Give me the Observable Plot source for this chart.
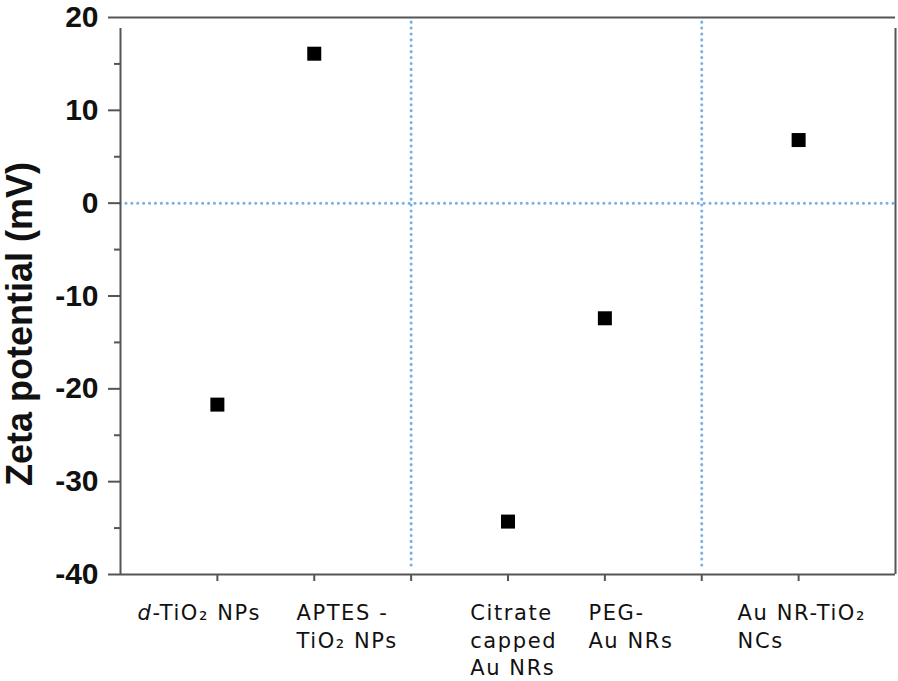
<!DOCTYPE html>
<html><head><meta charset="utf-8">
<script src="https://cdn.jsdelivr.net/npm/d3@7"></script>
<script src="https://cdn.jsdelivr.net/npm/@observablehq/plot@0.6"></script>
<style>body{margin:0;background:#fff} .xlab text{letter-spacing:1.6px}</style>
</head><body><div id="chart"></div>
<script>
const samples = ["d-TiO₂ NPs", "APTES -\nTiO₂ NPs", "Citrate\ncapped\nAu NRs", "PEG-\nAu NRs", "Au NR-TiO₂\nNCs"];
const samplePos = [1, 2, 4, 5, 7];
const zeta = [-21.7, 16.1, -34.3, -12.4, 6.8];
const labelPos = [0.175, 1.816, 3.61, 4.83, 6.37];
const dividers = [3, 6];
const yTicks = [-40, -30, -20, -10, 0, 10, 20];
const yMinor = [-35, -25, -15, -5, 5, 15];
const xTicks = [1, 2, 3, 4, 5, 6, 7];
const yTitle = "Zeta potential (mV)";

const pts = samples.map((s, i) => ({s, x: samplePos[i], y: zeta[i], lx: labelPos[i]}));
const axisColor = "#555";
const dotColor = "#78b0e6";

const chart = Plot.plot({
  width: 898, height: 681,
  marginLeft: 120, marginRight: 3, marginTop: 17, marginBottom: 107,
  style: {fontFamily: "'Liberation Sans', Arial, sans-serif", background: "#fff"},
  x: {domain: [0, 8], axis: null},
  y: {domain: [-40, 20], axis: null},
  marks: [
    Plot.ruleX(dividers, {y1: -40, y2: 20, insetTop: -9, stroke: dotColor, strokeWidth: 3, strokeDasharray: "0.1,5.8", strokeLinecap: "round"}),
    Plot.ruleY([0], {x1: 0, x2: 8, stroke: dotColor, strokeWidth: 3, strokeDasharray: "0.1,5.8", strokeLinecap: "round"}),
    Plot.ruleY([20, -40], {x1: 0, x2: 8, stroke: axisColor, strokeWidth: 2}),
    Plot.ruleX([0, 8], {y1: -40, y2: 20, insetBottom: -11, stroke: axisColor, strokeWidth: 2}),
    Plot.axisY(yTicks, {tickSize: 12, tickPadding: 10, fontSize: 30, fontWeight: "bold", tickFormat: d => String(d), label: null, stroke: axisColor, strokeWidth: 2, fill: "#111"}),
    Plot.axisY(yMinor, {tickSize: 6, tickFormat: () => "", label: null, stroke: axisColor, strokeWidth: 2}),
    Plot.axisX(xTicks, {tickSize: 7, tickFormat: () => "", label: null, stroke: axisColor, strokeWidth: 2}),
    Plot.text([yTitle], {frameAnchor: "left", textAnchor: "middle", rotate: -90, dx: -100, dy: 28, fontSize: 36, fontWeight: "bold", fill: "#111"}),
    Plot.text(pts, {x: "lx", y: () => -40, text: "s", textAnchor: "start", lineAnchor: "top", dy: 26, fontSize: 21, lineHeight: 1.31, fontFamily: "'DejaVu Sans', 'Noto Sans', sans-serif", fill: "#111", className: "xlab"}),
    Plot.dot(pts, {x: "x", y: "y", symbol: "square", r: 7.9, fill: "#000", stroke: "none"})
  ]
});
document.getElementById("chart").appendChild(chart);
// italic "d" prefix
chart.querySelectorAll(".xlab text").forEach(t => {
  if (t.textContent.startsWith("d-")) {
    const rest = t.textContent.slice(1);
    t.textContent = "";
    const it = document.createElementNS("http://www.w3.org/2000/svg", "tspan");
    it.setAttribute("font-style", "italic");
    it.textContent = "d";
    t.appendChild(it);
    t.appendChild(document.createTextNode(rest));
  }
});
</script>
</body></html>
